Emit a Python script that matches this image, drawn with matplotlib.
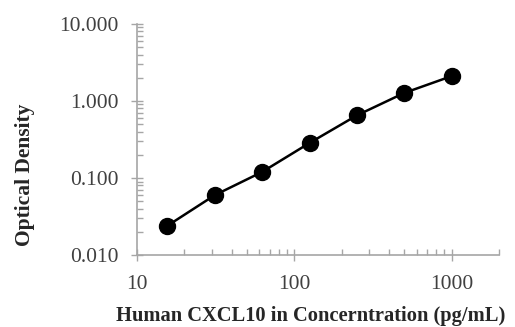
import numpy as np
import matplotlib.pyplot as plt
from matplotlib.ticker import LogLocator, NullFormatter

# Standard curve data
conc = [15.6, 31.25, 62.5, 125, 250, 500, 1000]
od = [0.024, 0.060, 0.120, 0.285, 0.650, 1.270, 2.100]

y_ticks = [0.01, 0.1, 1, 10]
y_labels = ['0.010', '0.100', '1.000', '10.000']
x_ticks = [10, 100, 1000]
x_labels = ['10', '100', '1000']

plt.rcParams['font.family'] = ['Liberation Serif', 'DejaVu Serif']

fig = plt.figure(figsize=(5.15, 3.27), dpi=100)
ax = fig.add_axes([0.266, 0.220, 0.703, 0.707])

ax.plot(conc, od, color='black', linewidth=1.8, marker='o', markersize=11.5)

ax.set_xscale('log')
ax.set_yscale('log')
ax.set_xlim(10, 2000)
ax.set_ylim(0.01, 10)

ax.set_xticks(x_ticks)
ax.set_xticklabels(x_labels)
ax.set_yticks(y_ticks)
ax.set_yticklabels(y_labels)
ax.xaxis.set_minor_locator(LogLocator(base=10, subs=np.arange(2, 10)))
ax.yaxis.set_minor_locator(LogLocator(base=10, subs=np.arange(2, 10)))
ax.xaxis.set_minor_formatter(NullFormatter())
ax.yaxis.set_minor_formatter(NullFormatter())

grey = '#a6a6a6'
ax.tick_params(which='major', direction='inout', length=8, width=1, color=grey,
               labelsize=15.5, labelcolor='#404040')
ax.tick_params(which='minor', direction='in', length=4, width=1, color=grey)
ax.tick_params(axis='x', which='major', pad=10)
ax.tick_params(axis='y', which='major', pad=9)

for side in ['top', 'right']:
    ax.spines[side].set_visible(False)
for side in ['left', 'bottom']:
    ax.spines[side].set_color(grey)
    ax.spines[side].set_linewidth(1.2)

ax.set_xlabel('Human CXCL10 in Concerntration (pg/mL)', fontsize=14.8, fontweight='bold',
              color='#262626')
ax.set_ylabel('Optical Density', fontsize=15.5, fontweight='bold', color='#262626')
ax.xaxis.set_label_coords(0.48, -0.222)
ax.yaxis.set_label_coords(-0.282, 0.346)

fig.savefig('out.png', dpi=100)
